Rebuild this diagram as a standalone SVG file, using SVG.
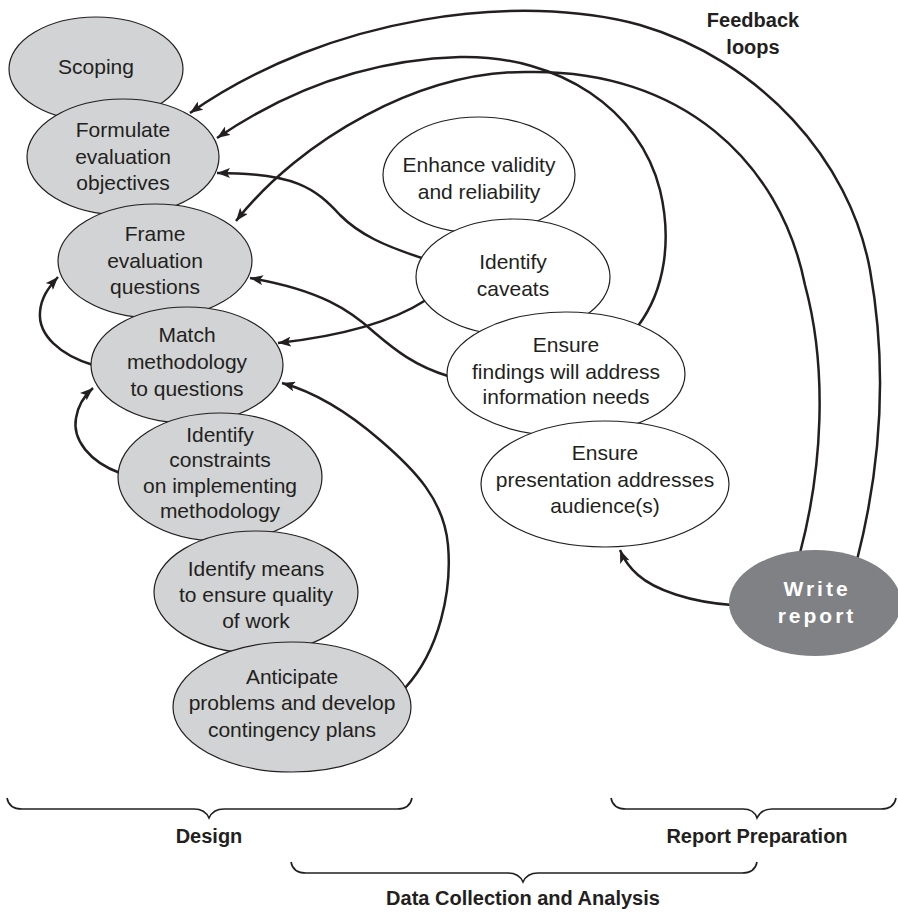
<svg xmlns="http://www.w3.org/2000/svg" width="898" height="914" viewBox="0 0 898 914">
<defs>
<marker id="arr" markerUnits="userSpaceOnUse" markerWidth="14" markerHeight="10" refX="13" refY="5" orient="auto">
<path d="M0,0 L13,5 L0,10 L3,5 z" fill="#231f20"/>
</marker>
<style>
.n ellipse{fill:#d1d3d4;stroke:#231f20;stroke-width:1.2}
.w ellipse{fill:#ffffff;stroke:#231f20;stroke-width:1.2}
.r ellipse{fill:#808184;stroke:none}
text{font-family:"Liberation Sans",Arial,sans-serif;fill:#231f20;text-anchor:middle}
.t{font-size:21px}
.rt{font-size:21px;font-weight:bold;fill:#ffffff;letter-spacing:3px}
.lb{font-size:20px;font-weight:bold}
.c path{fill:none;stroke:#231f20;stroke-width:2.5;marker-end:url(#arr)}
.br{fill:none;stroke:#231f20;stroke-width:1.6}
</style>
</defs>
<rect width="898" height="914" fill="#ffffff"/>

<g id="connectors" class="c">
<path d="M857,560 C880,470 888,370 870,270 C850,160 760,60 640,25 C520,-8 330,15 190,113"/>
<path d="M638,326 C665,290 672,240 660,190 C640,110 560,55 460,57 C360,60 280,95 217,138"/>
<path d="M800,553 C822,470 828,370 805,285 C780,160 680,70 530,72 C420,70 300,140 236,221"/>
<path d="M422,258 C385,246 360,235 340,215 C315,188 295,173 217,173"/>
<path d="M426,300 C395,320 350,335 278,343"/>
<path d="M448,376 C415,366 395,350 375,333 C350,310 320,290 250,278"/>
<path d="M405,688 C440,650 452,590 448,545 C444,500 415,470 380,440 C350,414 318,393 282,383"/>
<path d="M93,365 C60,355 38,335 40,312 C41,298 48,288 58,277"/>
<path d="M120,473 C90,462 72,440 76,418 C78,405 84,396 93,388"/>
<path d="M732,605 C690,602 655,590 638,575 C630,568 624,560 620,550"/>
</g>

<g id="scoping" class="n"><ellipse cx="96" cy="69" rx="87" ry="52"/><text class="t" x="96" y="74">Scoping</text></g>
<g id="formulate" class="n"><ellipse cx="123" cy="157" rx="96" ry="58"/><text class="t" x="123" y="137">Formulate</text><text class="t" x="123" y="164">evaluation</text><text class="t" x="123" y="190">objectives</text></g>
<g id="frame" class="n"><ellipse cx="155" cy="261" rx="97" ry="57"/><text class="t" x="155" y="241">Frame</text><text class="t" x="155" y="268">evaluation</text><text class="t" x="155" y="294">questions</text></g>
<g id="match" class="n"><ellipse cx="187" cy="365" rx="96" ry="58"/><text class="t" x="187" y="342">Match</text><text class="t" x="187" y="369">methodology</text><text class="t" x="187" y="396">to questions</text></g>
<g id="constraints" class="n"><ellipse cx="220" cy="477" rx="102" ry="64"/><text class="t" x="220" y="442">Identify</text><text class="t" x="220" y="467">constraints</text><text class="t" x="220" y="493">on implementing</text><text class="t" x="220" y="518">methodology</text></g>
<g id="means" class="n"><ellipse cx="256" cy="592" rx="102" ry="61"/><text class="t" x="256" y="576">Identify means</text><text class="t" x="256" y="602">to ensure quality</text><text class="t" x="256" y="628">of work</text></g>
<g id="anticipate" class="n"><ellipse cx="292" cy="707" rx="119" ry="65"/><text class="t" x="292" y="684">Anticipate</text><text class="t" x="292" y="710">problems and develop</text><text class="t" x="292" y="737">contingency plans</text></g>

<g id="enhance" class="w"><ellipse cx="479" cy="175" rx="96" ry="58"/><text class="t" x="479" y="172">Enhance validity</text><text class="t" x="479" y="199">and reliability</text></g>
<g id="caveats" class="w"><ellipse cx="513" cy="277" rx="97" ry="58"/><text class="t" x="513" y="269">Identify</text><text class="t" x="513" y="296">caveats</text></g>
<g id="findings" class="w"><ellipse cx="566" cy="374" rx="119" ry="62"/><text class="t" x="566" y="352">Ensure</text><text class="t" x="566" y="379">findings will address</text><text class="t" x="566" y="404">information needs</text></g>
<g id="presentation" class="w"><ellipse cx="605" cy="484" rx="124" ry="63"/><text class="t" x="605" y="460">Ensure</text><text class="t" x="605" y="487">presentation addresses</text><text class="t" x="605" y="513">audience(s)</text></g>

<g id="write-report" class="r"><ellipse cx="815" cy="603" rx="86" ry="53"/><text class="rt" x="817" y="596">Write</text><text class="rt" x="817" y="623">report</text></g>

<g id="feedback-label"><text class="lb" x="753" y="27">Feedback</text><text class="lb" x="753" y="54">loops</text></g>

<g id="design-brace">
<path class="br" d="M7,798 Q9,809 22,809 L194,809 Q205,809 209,818 Q213,809 224,809 L397,809 Q410,809 412,798"/>
<text class="lb" x="209" y="843">Design</text>
</g>
<g id="data-brace">
<path class="br" d="M291,862 Q293,873 306,873 L508,873 Q519,873 523,882 Q527,873 538,873 L742,873 Q755,873 757,862"/>
<text class="lb" x="523" y="905">Data Collection and Analysis</text>
</g>
<g id="report-brace">
<path class="br" d="M611,798 Q613,809 626,809 L743,809 Q754,809 757,818 Q761,809 772,809 L881,809 Q894,809 896,798"/>
<text class="lb" x="757" y="843">Report Preparation</text>
</g>
</svg>
